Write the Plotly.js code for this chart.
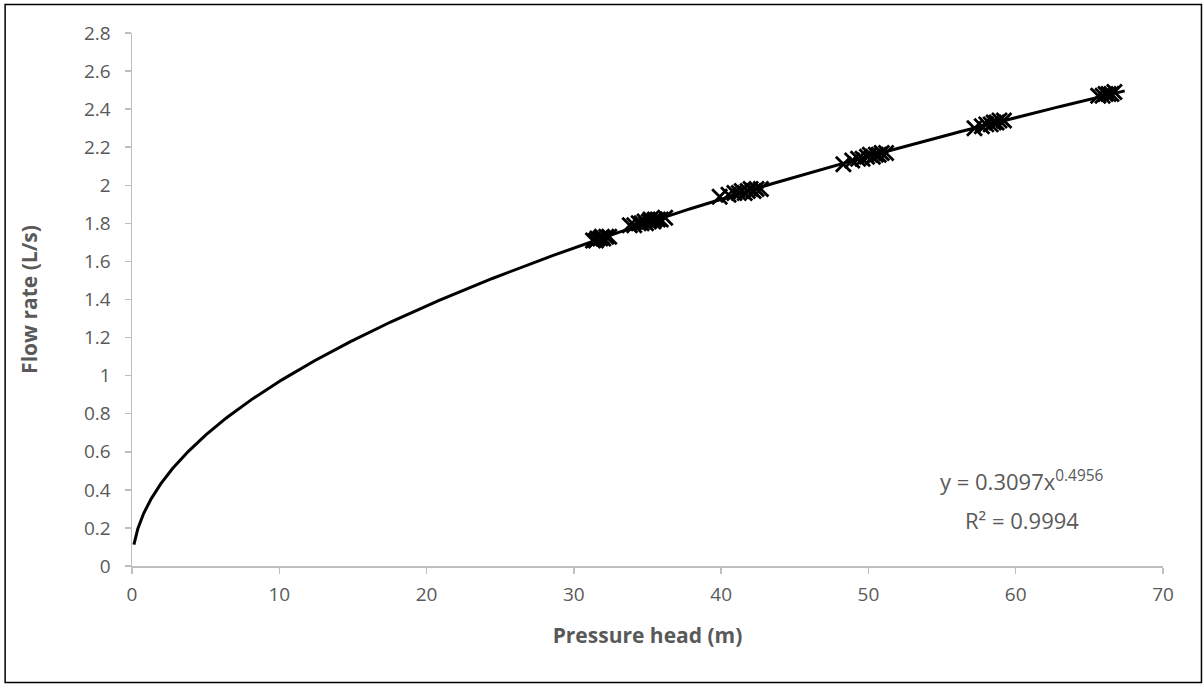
<!DOCTYPE html>
<html>
<head>
<meta charset="utf-8">
<script src="https://cdn.plot.ly/plotly-3.0.1.min.js"></script>
<style>html,body{margin:0;padding:0;background:#fff;}#chart{width:1203px;height:684px;}</style>
</head>
<body>
<div id="chart"></div>
<script>
// Measured points (pressure head m, flow rate L/s)
const pressureHead = [
  31.3, 31.5, 31.6, 31.8, 31.9, 32.0, 32.2, 32.4,
  33.8, 34.1, 34.4, 34.6, 34.8, 34.9, 35.1, 35.2, 35.4, 35.5, 35.7, 35.9, 36.2,
  39.9, 40.5, 40.9, 41.2, 41.4, 41.6, 41.8, 42.0, 42.2, 42.4, 42.7,
  48.3, 48.9, 49.3, 49.6, 49.9, 50.1, 50.3, 50.5, 50.7, 50.9, 51.2,
  57.2, 57.7, 58.0, 58.3, 58.5, 58.7, 58.9, 59.2,
  65.6, 65.9, 66.1, 66.3, 66.5, 66.7
];
const flowRate = [
  1.71, 1.71, 1.72, 1.72, 1.73, 1.72, 1.73, 1.73,
  1.79, 1.79, 1.80, 1.80, 1.81, 1.80, 1.81, 1.82, 1.81, 1.82, 1.82, 1.82, 1.83,
  1.94, 1.95, 1.96, 1.96, 1.97, 1.96, 1.97, 1.98, 1.97, 1.98, 1.98,
  2.11, 2.13, 2.14, 2.14, 2.15, 2.16, 2.15, 2.16, 2.16, 2.17, 2.17,
  2.30, 2.31, 2.32, 2.32, 2.33, 2.33, 2.34, 2.34,
  2.47, 2.47, 2.48, 2.48, 2.48, 2.49
];
// Power trendline as shown in the chart: y = a x^b
const trendA = 0.3097;
const trendB = 0.4956;
const trendRange = [0.13, 67.4];
const eqLine1 = 'y = 0.3097x<sup>0.4956</sup>';
const eqLine2 = 'R² = 0.9994';
const xTitle = 'Pressure head (m)';
const yTitle = 'Flow rate (L/s)';

const tx = [], ty = [];
const n = 400;
for (let i = 0; i <= n; i++) {
  const t = i / n;
  const x = trendRange[0] + (trendRange[1] - trendRange[0]) * Math.pow(t, 2);
  tx.push(x); ty.push(trendA * Math.pow(x, trendB));
}

const grey = '#595959';
const font = 'Open Sans, Liberation Sans, sans-serif';
const data = [
  {x: pressureHead, y: flowRate, type: 'scatter', mode: 'markers',
   marker: {symbol: 'x-thin-open', size: 15, color: '#000', line: {color: '#000', width: 2.8}},
   hoverinfo: 'x+y', showlegend: false},
  {x: tx, y: ty, type: 'scatter', mode: 'lines',
   line: {color: '#000', width: 3}, hoverinfo: 'skip', showlegend: false}
];
const px = (p) => (p - 131.5) / 1032;
const py = (p) => (566 - p) / 533;
const layout = {
  width: 1203, height: 684,
  margin: {l: 131.5, r: 39.5, t: 33, b: 118},
  paper_bgcolor: '#fff', plot_bgcolor: '#fff',
  font: {family: font, color: grey, size: 19},
  xaxis: {range: [0, 70], dtick: 10, tick0: 0, showgrid: false, zeroline: false,
    showline: true, linecolor: '#BFBFBF', linewidth: 1.5,
    ticks: 'outside', ticklen: 6, tickcolor: '#BFBFBF', tickwidth: 1.5,
    ticklabelstandoff: 5,
    tickfont: {family: font, size: 19, color: grey},
    title: {text: xTitle, font: {family: font, size: 21, color: grey, weight: 'bold'}, standoff: 22}},
  yaxis: {range: [0, 2.8], dtick: 0.2, tick0: 0, showgrid: false, zeroline: false,
    showline: true, linecolor: '#BFBFBF', linewidth: 1.5,
    ticks: 'outside', ticklen: 6, tickcolor: '#BFBFBF', tickwidth: 1.5,
    ticklabelstandoff: 10,
    tickfont: {family: font, size: 19, color: grey},
    title: {text: yTitle, font: {family: font, size: 21, color: grey, weight: 'bold'}, standoff: 40}},
  annotations: [
    {xref: 'paper', yref: 'paper', x: px(1022), y: py(481), text: eqLine1, showarrow: false,
     xanchor: 'center', yanchor: 'middle', font: {family: font, size: 22, color: grey}},
    {xref: 'paper', yref: 'paper', x: px(1022), y: py(520), text: eqLine2, showarrow: false,
     xanchor: 'center', yanchor: 'middle', font: {family: font, size: 22, color: grey}}
  ],
  shapes: [{type: 'rect', xref: 'paper', yref: 'paper',
    x0: px(4.5), x1: px(1202), y0: py(682.5), y1: py(4.5),
    line: {color: '#000', width: 1.5}, fillcolor: 'rgba(0,0,0,0)', layer: 'below'}]
};
Plotly.newPlot('chart', data, layout, {staticPlot: true, displayModeBar: false});
</script>
</body>
</html>
